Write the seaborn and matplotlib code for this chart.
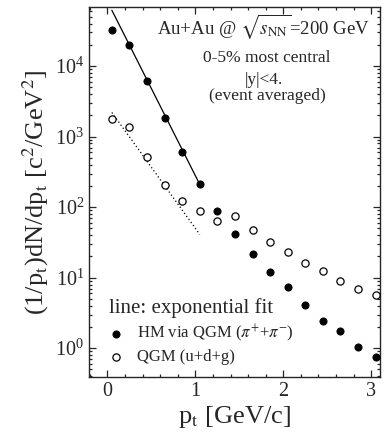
import numpy as np
import pandas as pd
import matplotlib
matplotlib.use("Agg")
import matplotlib.pyplot as plt
import matplotlib.ticker as mticker
import seaborn as sns

# pt bins (GeV/c)
pt = [0.05, 0.25, 0.45, 0.65, 0.85, 1.05, 1.25, 1.45,
      1.65, 1.85, 2.05, 2.25, 2.45, 2.65, 2.85, 3.05]

# HM via QGM (pi+ + pi-), filled circles
hm_vals = [33000, 20000, 6100, 1850, 600, 214, 89, 41,
           21.5, 12, 7.3, 4.1, 2.4, 1.76, 1.04, 0.76]

# QGM (u+d+g), open circles
qgm_vals = [1800, 1365, 507, 207, 124, 89, 64, 74.5,
            47, 32, 23, 16.2, 12.5, 9.0, 6.9, 5.6]

# exponential fits (end points, straight on log scale)
fit_pt = [0.05, 1.05]
hm_fit = [62000, 210]
qgm_fit = [2200, 41]

sns.set_style("ticks")
plt.rcParams["font.family"] = ["Liberation Serif", "DejaVu Serif"]
plt.rcParams["mathtext.fontset"] = "stix"

df_hm = pd.DataFrame({"pt": pt, "val": hm_vals})
df_qgm = pd.DataFrame({"pt": pt, "val": qgm_vals})
df_fit = pd.DataFrame({"pt": fit_pt, "hm": hm_fit, "qgm": qgm_fit})

fig = plt.figure(figsize=(3.86, 4.34), dpi=100)
ax = fig.add_axes([0.2306, 0.1313, 0.7539, 0.8526])

sns.lineplot(data=df_fit, x="pt", y="hm", ax=ax, color="black", lw=0.9)
sns.lineplot(data=df_fit, x="pt", y="qgm", ax=ax, color="black", lw=0.9,
             linestyle=(0, (1, 2)))

sns.scatterplot(data=df_hm, x="pt", y="val", ax=ax, s=27, color="black",
                edgecolor="black", linewidth=0.6,
                label=r"HM via QGM ($\pi^{+}$+$\pi^{-}$)", zorder=3)
sns.scatterplot(data=df_qgm, x="pt", y="val", ax=ax, s=27, facecolor="white",
                edgecolor="black", linewidth=0.9,
                label="QGM (u+d+g)", zorder=3)

ax.set_yscale("log")
ax.set_xlim(-0.21, 3.10)
ax.set_ylim(0.39, 69000)

ax.xaxis.set_major_locator(mticker.MultipleLocator(1))
ax.xaxis.set_minor_locator(mticker.MultipleLocator(0.2))
ax.yaxis.set_major_locator(mticker.LogLocator(base=10, numticks=10))
ax.yaxis.set_minor_locator(mticker.LogLocator(base=10, subs=np.arange(2, 10), numticks=20))
ax.yaxis.set_minor_formatter(mticker.NullFormatter())
ax.tick_params(which="both", direction="in", top=True, right=True,
               labelsize=14.5, width=0.9)
ax.tick_params(which="major", length=5)
ax.tick_params(which="minor", length=2.5)
for sp in ax.spines.values():
    sp.set_linewidth(1.0)

ax.set_xlabel(r"p$_\mathrm{t}$ [GeV/c]", fontsize=19, labelpad=2)
ax.set_ylabel(r"(1/p$_\mathrm{t}$)dN/dp$_\mathrm{t}$ [c$^2$/GeV$^2$]",
              fontsize=19, labelpad=3)

ax.text(0.598, 0.946, r"Au+Au @ $\sqrt{s_{\mathrm{NN}}}$=200 GeV",
        transform=ax.transAxes, ha="center", va="center", fontsize=13.5)
ax.text(0.612, 0.862, "0-5% most central", transform=ax.transAxes,
        ha="center", va="center", fontsize=12.5)
ax.text(0.600, 0.803, "|y|<4.", transform=ax.transAxes,
        ha="center", va="center", fontsize=12.5)
ax.text(0.612, 0.760, "(event averaged)", transform=ax.transAxes,
        ha="center", va="center", fontsize=12.5)

leg = ax.legend(loc="lower left", bbox_to_anchor=(0.027, 0.0), frameon=False,
                title="line: exponential fit", title_fontsize=15,
                fontsize=12, handlelength=0.9, handletextpad=0.8,
                labelspacing=0.3, borderaxespad=0.3, markerscale=1.0)
leg._legend_box.align = "left"

fig.savefig("out.png", dpi=100)
